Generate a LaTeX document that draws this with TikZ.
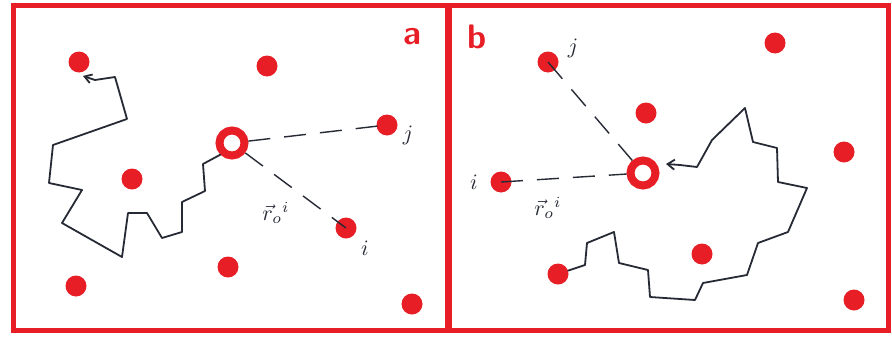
\documentclass[tikz,border=0pt]{standalone}
\usepackage{graphicx}
\usetikzlibrary{arrows.meta}
\definecolor{redink}{RGB}{232,30,38}
\definecolor{penink}{RGB}{38,42,52}
\begin{document}
\begin{tikzpicture}[x=1pt,y=-1pt,
  dot/.style={circle,fill=redink,inner sep=0pt,minimum size=21pt},
  ring/.style={circle,draw=redink,line width=8pt,inner sep=0pt,minimum size=25pt},
  walk/.style={draw=penink,line width=1.8pt,line join=round,line cap=round},
  dashline/.style={draw=penink,line width=1.4pt,dash pattern=on 22pt off 14pt},
  frame/.style={draw=redink,line width=5pt},
  panellabel/.style={text=redink,font=\sffamily\bfseries,inner sep=0pt},
  idx/.style={text=penink,inner sep=0pt},
  vec/.style={text=penink,inner sep=0pt}]
\useasboundingbox (0,0) rectangle (892,343);
\fill[white] (0,0) rectangle (892,343);
% frames
\draw[frame] (13,5) rectangle (888,330);
\draw[draw=redink,line width=7pt] (448,5) -- (448,330);
% ---------- panel a ----------
\node[panellabel] (la) at (412,37) {\scalebox{3.4}{a}};
\node[dot] (a1) at (79,62) {};
\node[dot] (a2) at (267,66) {};
\node[dot] (aj) at (387,125) {};
\node[dot] (a4) at (132,179) {};
\node[dot] (ai) at (346,228) {};
\node[dot] (a6) at (228,267) {};
\node[dot] (a7) at (76,286) {};
\node[dot] (a8) at (412,304) {};
\node[ring] (ra) at (232,143) {};
\node[idx] (laj) at (408,135) {\scalebox{2.2}{$j$}};
\node[idx] (lai) at (365,248) {\scalebox{2.2}{$i$}};
\node[vec] (lar) at (276,213) {\scalebox{2.2}{$\vec{r}_{o}{}^{i}$}};
\draw[dashline] (ra) -- (aj.center);
\draw[dashline] (ra) -- (ai.center);
\coordinate (atip) at (83,76);
\draw[walk,-{Straight Barb[length=7pt,width=9pt]}]
  (ra.south west) -- (203,164) -- (205,191) -- (182,202) -- (182,232) -- (162,238)
  -- (147,213) -- (128,213) -- (122,257) -- (62,223) -- (82,190) -- (49,183)
  -- (53,145) -- (127,119) -- (115,77) -- (95,80) -- (atip);
% ---------- panel b ----------
\node[panellabel] (lb) at (477,37) {\scalebox{3.4}{b}};
\node[dot] (bj) at (548,62) {};
\node[dot] (b2) at (775,43) {};
\node[dot] (b3) at (646,113) {};
\node[dot] (b4) at (844,152) {};
\node[dot] (bi) at (501,182) {};
\node[dot] (b6) at (702,254) {};
\node[dot] (b7) at (558,274) {};
\node[dot] (b8) at (854,300) {};
\node[ring] (rb) at (643,173) {};
\node[idx] (lbj) at (573,48) {\scalebox{2.2}{$j$}};
\node[idx] (lbi) at (474,182) {\scalebox{2.2}{$i$}};
\node[vec] (lbr) at (548,208) {\scalebox{2.2}{$\vec{r}_{o}{}^{i}$}};
\draw[dashline] (bj.center) -- (rb);
\draw[dashline] (bi.center) -- (rb);
\coordinate (btip) at (666,164);
\draw[walk,-{Straight Barb[length=7pt,width=10pt]}]
  (b7) -- (585,265) -- (587,243) -- (614,232) -- (619,263) -- (648,270)
  -- (650,297) -- (695,300) -- (703,283) -- (747,275) -- (758,243) -- (788,232)
  -- (807,188) -- (778,182) -- (777,148) -- (753,142) -- (745,108) -- (712,140)
  -- (697,167) -- (680,165) -- (btip);
\end{tikzpicture}
\end{document}
